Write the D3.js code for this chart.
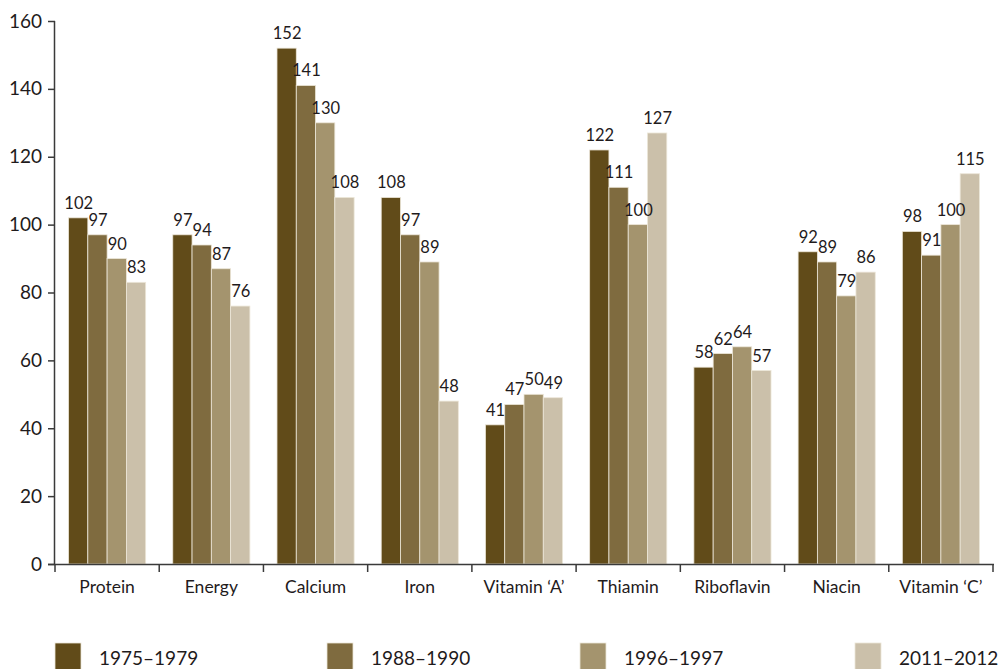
<!DOCTYPE html>
<html>
<head>
<meta charset="utf-8">
<script src="https://cdn.jsdelivr.net/npm/d3@7"></script>
<style>
  html, body { margin: 0; padding: 0; background: #fff; }
  svg { display: block; font-family: Lato, "Open Sans", sans-serif; }
</style>
</head>
<body>
<svg id="chart" width="1000" height="669"></svg>
<script>
const nutrients = ["Protein", "Energy", "Calcium", "Iron", "Vitamin \u2018A\u2019", "Thiamin", "Riboflavin", "Niacin", "Vitamin \u2018C\u2019"];
const periods = ["1975\u20131979", "1988\u20131990", "1996\u20131997", "2011\u20132012"];
const v1975 = [102, 97, 152, 108, 41, 122, 58, 92, 98];
const v1988 = [97, 94, 141, 97, 47, 111, 62, 89, 91];
const v1996 = [90, 87, 130, 89, 50, 100, 64, 79, 100];
const v2011 = [83, 76, 108, 48, 49, 127, 57, 86, 115];
const yTicks = [0, 20, 40, 60, 80, 100, 120, 140, 160];
const colors = ["#614b19", "#7f6b3f", "#a4946e", "#cbc0aa"];

const seriesValues = [v1975, v1988, v1996, v2011];
const rows = nutrients.map((n, i) => ({
  name: n,
  values: periods.map((p, j) => ({ period: p, value: seriesValues[j][i] }))
}));

const svg = d3.select("#chart");
const plotLeft = 55, plotRight = 993, plotTop = 21, plotBottom = 564;
const textColor = "#1f1b1c";
const axisColor = "#3a3a3a";
const fontWeight = 400;

const x0 = d3.scaleBand().domain(nutrients).range([plotLeft, plotRight]).paddingInner(0.26).paddingOuter(0.13);
const x1 = d3.scaleBand().domain(periods).range([0, x0.bandwidth()]).padding(0);
const y = d3.scaleLinear().domain([0, 160]).range([plotBottom, plotTop]);
const color = d3.scaleOrdinal().domain(periods).range(colors);

// bars
const groups = svg.append("g").selectAll("g").data(rows).join("g")
  .attr("transform", d => `translate(${x0(d.name)},0)`);

groups.selectAll("rect").data(d => d.values).join("rect")
  .attr("x", d => x1(d.period))
  .attr("y", d => y(d.value))
  .attr("width", x1.bandwidth())
  .attr("height", d => y(0) - y(d.value))
  .attr("fill", d => color(d.period))
  .attr("stroke", "#ece6d8")
  .attr("stroke-width", 0.8);

// value labels
groups.selectAll("text").data(d => d.values).join("text")
  .attr("x", d => x1(d.period) + x1.bandwidth() / 2 + 0.5)
  .attr("y", d => y(d.value) - 9)
  .attr("text-anchor", "middle")
  .attr("font-size", 16.5)
  .attr("font-weight", fontWeight)
  .attr("fill", textColor)
  .text(d => d.value);

// y axis
const yAxis = svg.append("g")
  .attr("transform", `translate(${plotLeft},0)`)
  .call(d3.axisLeft(y).tickValues(yTicks).tickSize(7).tickPadding(6));
yAxis.select(".domain").attr("stroke", axisColor).attr("stroke-width", 1.5)
  .attr("d", `M-0.5,${plotTop}V${plotBottom}`);
yAxis.selectAll(".tick line").attr("stroke", axisColor).attr("stroke-width", 1.5);
yAxis.selectAll(".tick text").attr("font-size", 19).attr("fill", textColor)
  .attr("font-weight", fontWeight)
  .attr("font-family", "Lato, sans-serif");

// x axis with ticks at band boundaries
const xAxisG = svg.append("g").attr("transform", `translate(0,${plotBottom})`);
xAxisG.append("line").attr("x1", plotLeft - 7).attr("x2", plotRight + 1)
  .attr("y1", 0.5).attr("y2", 0.5).attr("stroke", axisColor).attr("stroke-width", 1.5);
const step = x0.step();
const boundaries = nutrients.map(n => x0(n) - x0.paddingOuter() * step).concat([plotRight]);
xAxisG.selectAll("line.tk").data(boundaries).join("line").attr("class", "tk")
  .attr("x1", d => d).attr("x2", d => d).attr("y1", 0).attr("y2", 8)
  .attr("stroke", axisColor).attr("stroke-width", 1.5);
xAxisG.selectAll("text").data(nutrients).join("text")
  .attr("x", d => x0(d) + x0.bandwidth() / 2)
  .attr("y", 29)
  .attr("text-anchor", "middle")
  .attr("font-size", 17.5)
  .attr("font-weight", fontWeight)
  .attr("fill", textColor)
  .text(d => d);

// legend
const legendX = [55, 327, 580, 855];
const legend = svg.append("g").selectAll("g").data(periods).join("g")
  .attr("transform", (d, i) => `translate(${legendX[i]},643)`);
legend.append("rect").attr("width", 26).attr("height", 30)
  .attr("fill", d => color(d)).attr("stroke", "#ece6d8").attr("stroke-width", 0.8);
legend.append("text").attr("x", 44).attr("y", 22)
  .attr("font-size", 19).attr("font-weight", fontWeight)
  .attr("fill", textColor).text(d => d);
</script>
</body>
</html>
